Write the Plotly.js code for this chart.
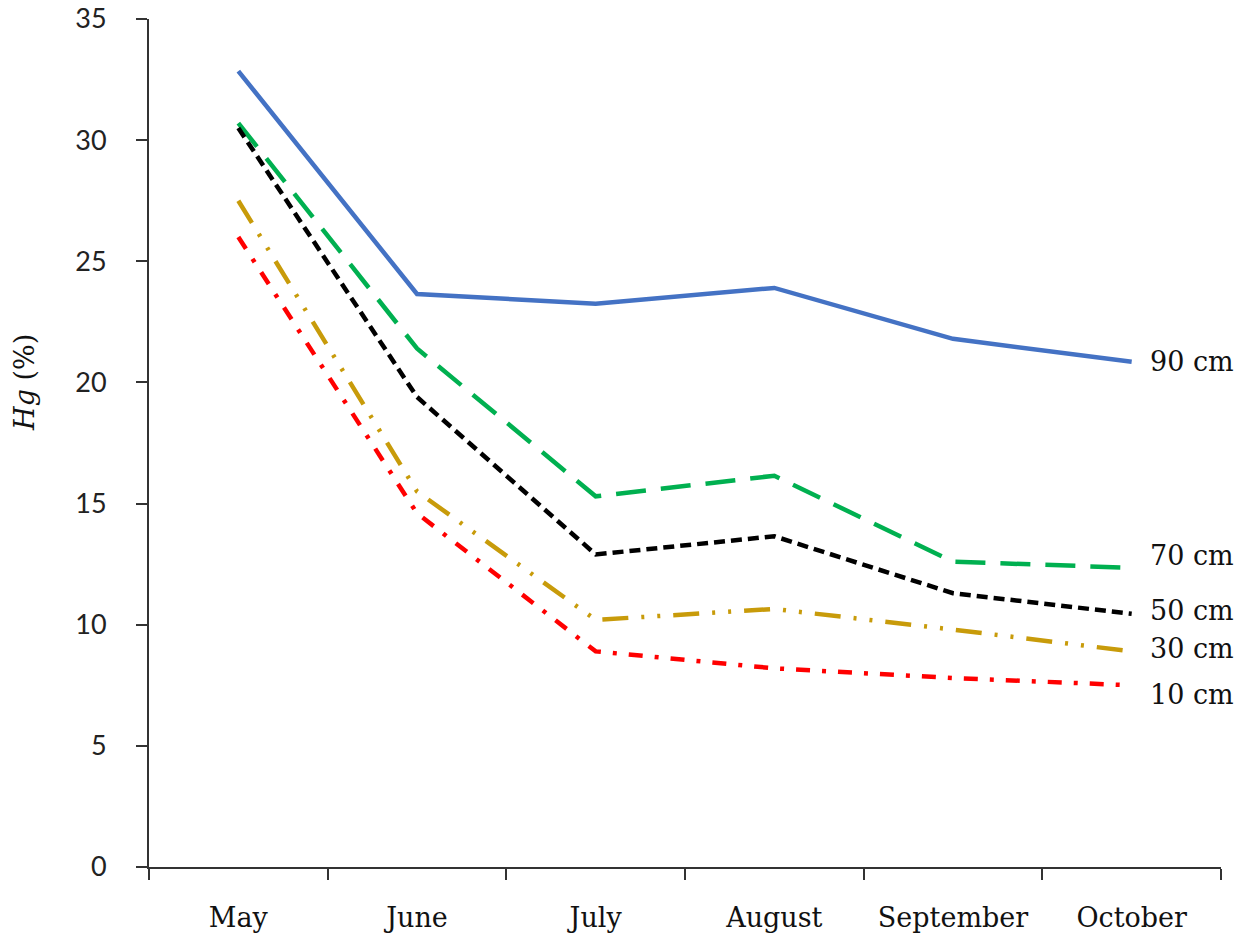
<!DOCTYPE html>
<html>
<head>
<meta charset="utf-8">
<script src="https://cdn.plot.ly/plotly-3.0.1.min.js"></script>
<style>html,body{margin:0;padding:0;background:#fff;}#chart{width:1249px;height:945px;}</style>
</head>
<body>
<div id="chart"></div>
<script>
const months = ["May", "June", "July", "August", "September", "October"];
const depth90 = [32.85, 23.65, 23.25, 23.9, 21.8, 20.85];
const depth70 = [30.7, 21.4, 15.3, 16.15, 12.6, 12.35];
const depth50 = [30.5, 19.4, 12.9, 13.65, 11.3, 10.45];
const depth30 = [27.5, 15.5, 10.2, 10.65, 9.8, 8.9];
const depth10 = [26.0, 14.6, 8.9, 8.2, 7.8, 7.5];
const seriesNames = ["90 cm", "70 cm", "50 cm", "30 cm", "10 cm"];
const yTitle = "<i>Hg</i> (%)";

const series = [depth90, depth70, depth50, depth30, depth10];
const colors = ["#4472C4", "#00B050", "#000000", "#C89B0A", "#FF0000"];
const dashes = ["solid", "30px,15px", "11px,6px", "26px,13px,3px,13px,3px,13px", "14px,12px,4px,12px"];
const labelShift = [0, 12, 3, 3, -9];
const serif = "DejaVu Serif, Liberation Serif, serif";

const traces = series.map((vals, i) => ({
  x: months, y: vals, type: "scatter", mode: "lines", name: seriesNames[i],
  line: {color: colors[i], width: 4.5, dash: dashes[i]}, showlegend: false, hoverinfo: "skip"
}));

const annotations = series.map((vals, i) => ({
  x: months[months.length - 1], y: vals[vals.length - 1], xref: "x", yref: "y",
  text: seriesNames[i], showarrow: false, xanchor: "left", yanchor: "middle",
  xshift: 16, yshift: labelShift[i],
  font: {family: serif, size: 27, color: "#111"}
}));
annotations.push({
  xref: "paper", yref: "paper", x: -0.1157, y: 0.572, text: yTitle, textangle: -90,
  showarrow: false, xanchor: "center", yanchor: "middle",
  font: {family: serif, size: 27, color: "#111"}
});

const layout = {
  width: 1249, height: 945,
  margin: {l: 149, r: 28, t: 19, b: 78},
  paper_bgcolor: "#fff", plot_bgcolor: "#fff",
  xaxis: {
    type: "category", range: [-0.5, 5.5], showgrid: false, zeroline: false,
    showline: true, linecolor: "#333", linewidth: 2,
    ticks: "outside", tickson: "boundaries", ticklen: 11, tickwidth: 2, tickcolor: "#333",
    ticklabelstandoff: 26,
    tickfont: {family: serif, size: 27, color: "#111"}
  },
  yaxis: {
    range: [0, 35], dtick: 5, showgrid: false, zeroline: false,
    showline: true, linecolor: "#333", linewidth: 2,
    ticks: "outside", ticklen: 11, tickwidth: 2, tickcolor: "#333",
    ticklabelstandoff: 24, ticklabeloverflow: "allow",
    tickfont: {family: "Lato, Liberation Sans, sans-serif", size: 27, color: "#222"}
  },
  annotations: annotations
};

Plotly.newPlot("chart", traces, layout, {staticPlot: true, displayModeBar: false});
</script>
</body>
</html>
